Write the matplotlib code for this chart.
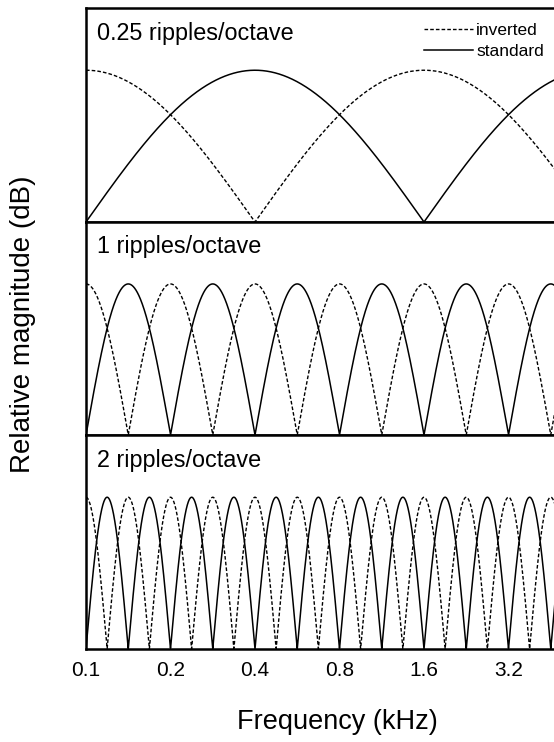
import numpy as np
import matplotlib
matplotlib.use("Agg")
import matplotlib.pyplot as plt
from matplotlib.lines import Line2D

plt.rcParams['font.family'] = ['Liberation Sans', 'DejaVu Sans']

# ripple densities of the three panels (ripples per octave)
ripple_densities = [0.25, 1, 2]
panel_labels = ["0.25 ripples/octave", "1 ripples/octave", "2 ripples/octave"]
f_start = 0.1   # kHz
f_stop = 6.4    # kHz, axis runs past the cropped right edge
tick_freqs = [0.1, 0.2, 0.4, 0.8, 1.6, 3.2]
tick_labels = ["0.1", "0.2", "0.4", "0.8", "1.6", "3.2"]
legend_labels = ["inverted", "standard"]

W, H = 554, 742
fig = plt.figure(figsize=(W / 100, H / 100), dpi=100)

freq = np.geomspace(f_start, f_stop, 4000)
octaves = np.log2(freq / f_start)

left = 86 / W
width = (593 - 86) / W
panel_px = [(8, 222), (222, 435), (435, 649)]

axes = []
for i, dens in enumerate(ripple_densities):
    top, bot = panel_px[i]
    ax = fig.add_axes([left, 1 - bot / H, width, (bot - top) / H])
    standard = np.abs(np.sin(np.pi * dens * octaves))
    inverted = np.abs(np.cos(np.pi * dens * octaves))
    ax.plot(freq, inverted, color="black", lw=1.0, ls=(0, (2.6, 1.5)))
    ax.plot(freq, standard, color="black", lw=1.1)
    ax.set_xscale("log")
    ax.set_xlim(f_start, f_stop)
    ax.set_ylim(0, 1.41)
    ax.set_yticks([])
    ax.set_xticks(tick_freqs)
    ax.xaxis.set_minor_locator(plt.NullLocator())
    ax.tick_params(axis="x", length=0, pad=9, labelsize=15)
    if i < 2:
        ax.set_xticklabels([])
    else:
        ax.set_xticklabels(tick_labels)
    for s in ax.spines.values():
        s.set_linewidth(1.8)
    ax.text(0.022, 0.883, panel_labels[i], transform=ax.transAxes,
            fontsize=16.8, ha="left", va="center")
    axes.append(ax)

handles = [Line2D([], [], color="black", lw=1.0, ls=(0, (2.6, 1.5))),
           Line2D([], [], color="black", lw=1.1)]
axes[0].legend(handles, legend_labels, loc="upper left",
               bbox_to_anchor=((424 - 86) / 507, 0.93), frameon=False,
               fontsize=12.5, handlelength=2.8, handletextpad=0.2,
               labelspacing=0.35, borderpad=0, borderaxespad=0)

fig.text(23 / W, 1 - 324 / H, "Relative magnitude (dB)", rotation=90,
         fontsize=20, ha="center", va="center")
fig.text(337 / W, 1 - 722 / H, "Frequency (kHz)", fontsize=19.5,
         ha="center", va="center")

fig.savefig("out.png", dpi=100)
